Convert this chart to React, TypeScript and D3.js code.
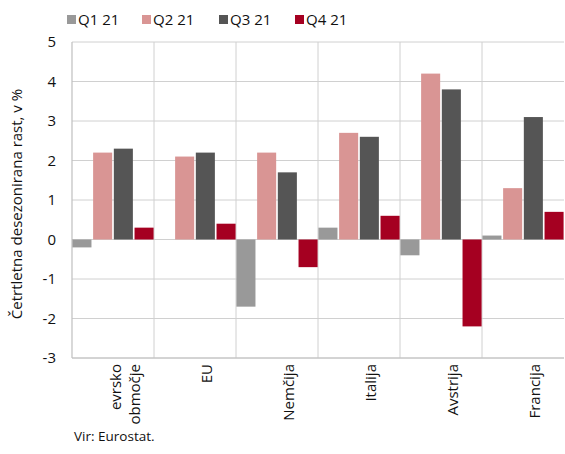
import React from "react";
import * as d3 from "d3";

const categories = ["evrsko območje", "EU", "Nemčija", "Italija", "Avstrija", "Francija"];
const categoryLines = [["evrsko", "območje"], ["EU"], ["Nemčija"], ["Italija"], ["Avstrija"], ["Francija"]];
const seriesNames = ["Q1 21", "Q2 21", "Q3 21", "Q4 21"];
const seriesColors = ["#999999", "#d99594", "#555555", "#a50021"];
const q1 = [-0.2, 0.0, -1.7, 0.3, -0.4, 0.1];
const q2 = [2.2, 2.1, 2.2, 2.7, 4.2, 1.3];
const q3 = [2.3, 2.2, 1.7, 2.6, 3.8, 3.1];
const q4 = [0.3, 0.4, -0.7, 0.6, -2.2, 0.7];
const yTicks = [5, 4, 3, 2, 1, 0, -1, -2, -3];
const yTitle = "Četrtletna desezonirana rast, v %";
const source = "Vir: Eurostat.";

const FONT = "'Open Sans', sans-serif";

export default function App() {
  const W = 565, H = 454;
  const left = 72, right = 564, top = 42, bottom = 358;
  const series = [q1, q2, q3, q4];
  const x0 = d3.scaleBand<string>().domain(categories).range([left, right]).padding(0);
  const x1 = d3.scaleBand<string>().domain(seriesNames).range([0, x0.bandwidth()]).paddingInner(0.08).paddingOuter(0.02);
  const y = d3.scaleLinear().domain([-3, 5]).range([bottom, top]);
  const legendX = [67, 142, 219, 295];

  return (
    <svg width={W} height={H} style={{ position: "absolute", left: 0, top: 0, fontFamily: FONT }}>
      <rect x={0} y={0} width={W} height={H} fill="#fff" />
      {yTicks.map((t) => (
        <line key={"h" + t} x1={left} x2={right} y1={y(t)} y2={y(t)} stroke="#d0d0d0" strokeWidth={1} />
      ))}
      {categories.slice(1).map((c) => (
        <line key={"v" + c} x1={x0(c)} x2={x0(c)} y1={top} y2={bottom} stroke="#d0d0d0" strokeWidth={1} />
      ))}
      <line x1={left} x2={left} y1={top} y2={bottom} stroke="#bfbfbf" strokeWidth={1.2} />
      <line x1={left} x2={right} y1={bottom} y2={bottom} stroke="#bfbfbf" strokeWidth={1.2} />
      {series.map((vals, si) =>
        vals.map((v, ci) => {
          const bx = (x0(categories[ci]) as number) + (x1(seriesNames[si]) as number);
          const y0 = y(0);
          const yv = y(v);
          return (
            <rect
              key={si + "-" + ci}
              x={bx}
              y={Math.min(y0, yv)}
              width={x1.bandwidth()}
              height={Math.abs(yv - y0)}
              fill={seriesColors[si]}
            />
          );
        })
      )}
      {yTicks.map((t) => (
        <text key={"yt" + t} x={56} y={y(t)} dy="0.35em" textAnchor="end" fontSize={15} fill="#111">
          {t}
        </text>
      ))}
      <text transform={`translate(22,${(top + bottom) / 2 + 4}) rotate(-90)`} textAnchor="middle" fontSize={15} fill="#111">
        {yTitle}
      </text>
      {categoryLines.map((lines, ci) => {
        const cx = (x0(categories[ci]) as number) + x0.bandwidth() / 2 + 12;
        const n = lines.length;
        return lines.map((ln, li) => {
          const lx = cx + (li - (n - 1) / 2) * 19 + 5;
          return (
            <text key={"xl" + ci + li} transform={`translate(${lx},${bottom + 6}) rotate(-90)`} textAnchor="end" fontSize={15} fill="#111">
              {ln}
            </text>
          );
        });
      })}
      {seriesNames.map((s, i) => (
        <g key={"lg" + s}>
          <rect x={legendX[i]} y={15} width={9} height={9} fill={seriesColors[i]} />
          <text x={legendX[i] + 11} y={20} dy="0.35em" fontSize={15} fill="#111">
            {s}
          </text>
        </g>
      ))}
      <text x={74} y={441} fontSize={13.5} fill="#111">
        {source}
      </text>
    </svg>
  );
}
